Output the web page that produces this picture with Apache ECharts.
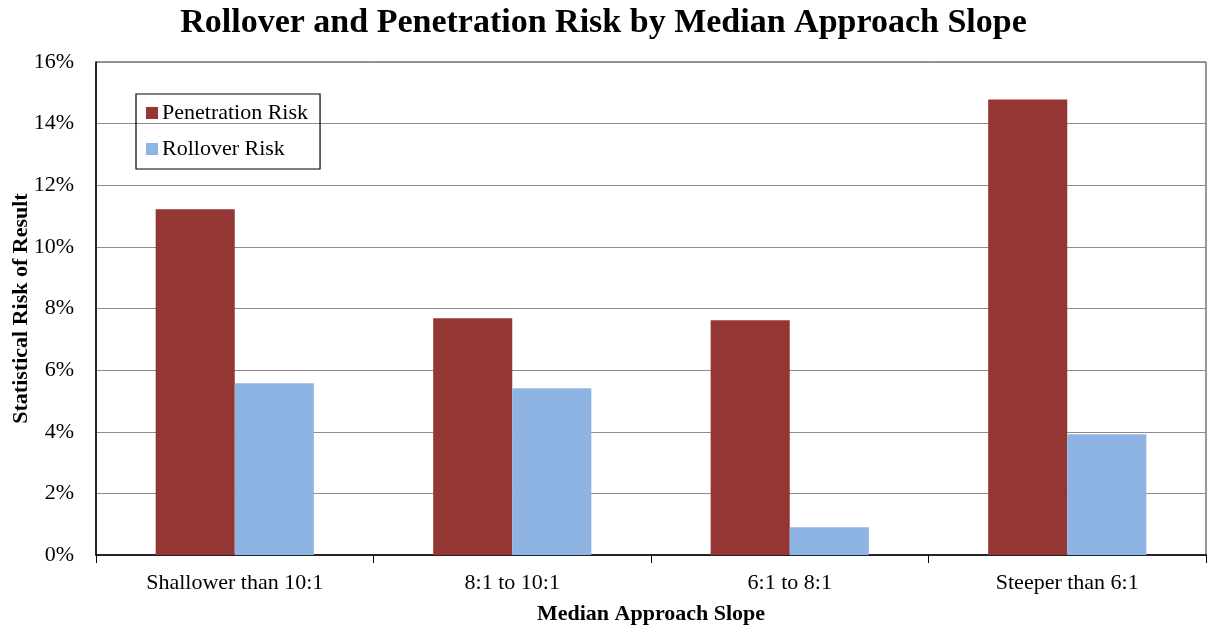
<!DOCTYPE html>
<html><head><meta charset="utf-8">
<script src="https://cdn.jsdelivr.net/npm/echarts@6/dist/echarts.min.js"></script>
<style>html,body{margin:0;padding:0;background:#fff}#c{width:1207px;height:628px}</style>
</head><body><div id="c"></div>
<script>
const categories = ['Shallower than 10:1', '8:1 to 10:1', '6:1 to 8:1', 'Steeper than 6:1'];
const penetrationRisk = [11.22, 7.68, 7.62, 14.78];
const rolloverRisk = [5.57, 5.41, 0.90, 3.92];
const yTicks = [0, 2, 4, 6, 8, 10, 12, 14, 16];

const font = '"Liberation Serif", "Times New Roman", serif';
const chart = echarts.init(document.getElementById('c'));
chart.setOption({
  animation: false,
  backgroundColor: '#fff',
  title: {
    text: 'Rollover and Penetration Risk by Median Approach Slope',
    left: 'center', top: 1,
    textStyle: { fontFamily: font, fontWeight: 'bold', fontSize: 34, color: '#000' }
  },
  grid: {
    left: 96, right: 1, top: 62, bottom: 73,
    outerBoundsMode: 'none', containLabel: false,
    show: true, borderColor: '#333', borderWidth: 1, backgroundColor: 'transparent'
  },
  legend: {
    left: 136, top: 94,
    orient: 'vertical', itemGap: 14,
    itemWidth: 12, itemHeight: 12,
    padding: [8, 12, 9, 10],
    borderColor: '#000', borderWidth: 1.2, borderRadius: 0,
    icon: 'rect',
    textStyle: { fontFamily: font, fontSize: 22, color: '#000', padding: [0, 0, 0, -1] },
    data: ['Penetration Risk', 'Rollover Risk']
  },
  xAxis: {
    type: 'category',
    data: categories,
    name: 'Median Approach Slope',
    nameLocation: 'middle', nameGap: 48, nameMoveOverlap: false,
    nameTextStyle: { fontFamily: font, fontWeight: 'bold', fontSize: 22, color: '#000' },
    axisLine: { lineStyle: { color: '#000', width: 1.5 } },
    axisTick: { show: true, length: 8, lineStyle: { color: '#000' } },
    axisLabel: { fontFamily: font, fontSize: 22, color: '#000', margin: 17, interval: 0 },
    splitLine: { show: false }
  },
  yAxis: {
    type: 'value',
    min: yTicks[0], max: yTicks[yTicks.length - 1], interval: 2,
    name: 'Statistical Risk of Result',
    nameLocation: 'middle', nameGap: 64, nameMoveOverlap: false,
    nameTextStyle: { fontFamily: font, fontWeight: 'bold', fontSize: 22, color: '#000' },
    axisLine: { show: true, lineStyle: { color: '#000', width: 1.5 } },
    axisTick: { show: false },
    axisLabel: { fontFamily: font, fontSize: 22, color: '#000', margin: 22, formatter: v => v + '%' },
    splitLine: { show: true, lineStyle: { color: '#8c8c8c', width: 1.2 } }
  },
  series: [
    { name: 'Penetration Risk', type: 'bar', data: penetrationRisk,
      itemStyle: { color: '#943634' }, barGap: '0%', barCategoryGap: '43%' },
    { name: 'Rollover Risk', type: 'bar', data: rolloverRisk,
      itemStyle: { color: '#8EB4E3' }, barGap: '0%', barCategoryGap: '43%' }
  ]
});
</script></body></html>
